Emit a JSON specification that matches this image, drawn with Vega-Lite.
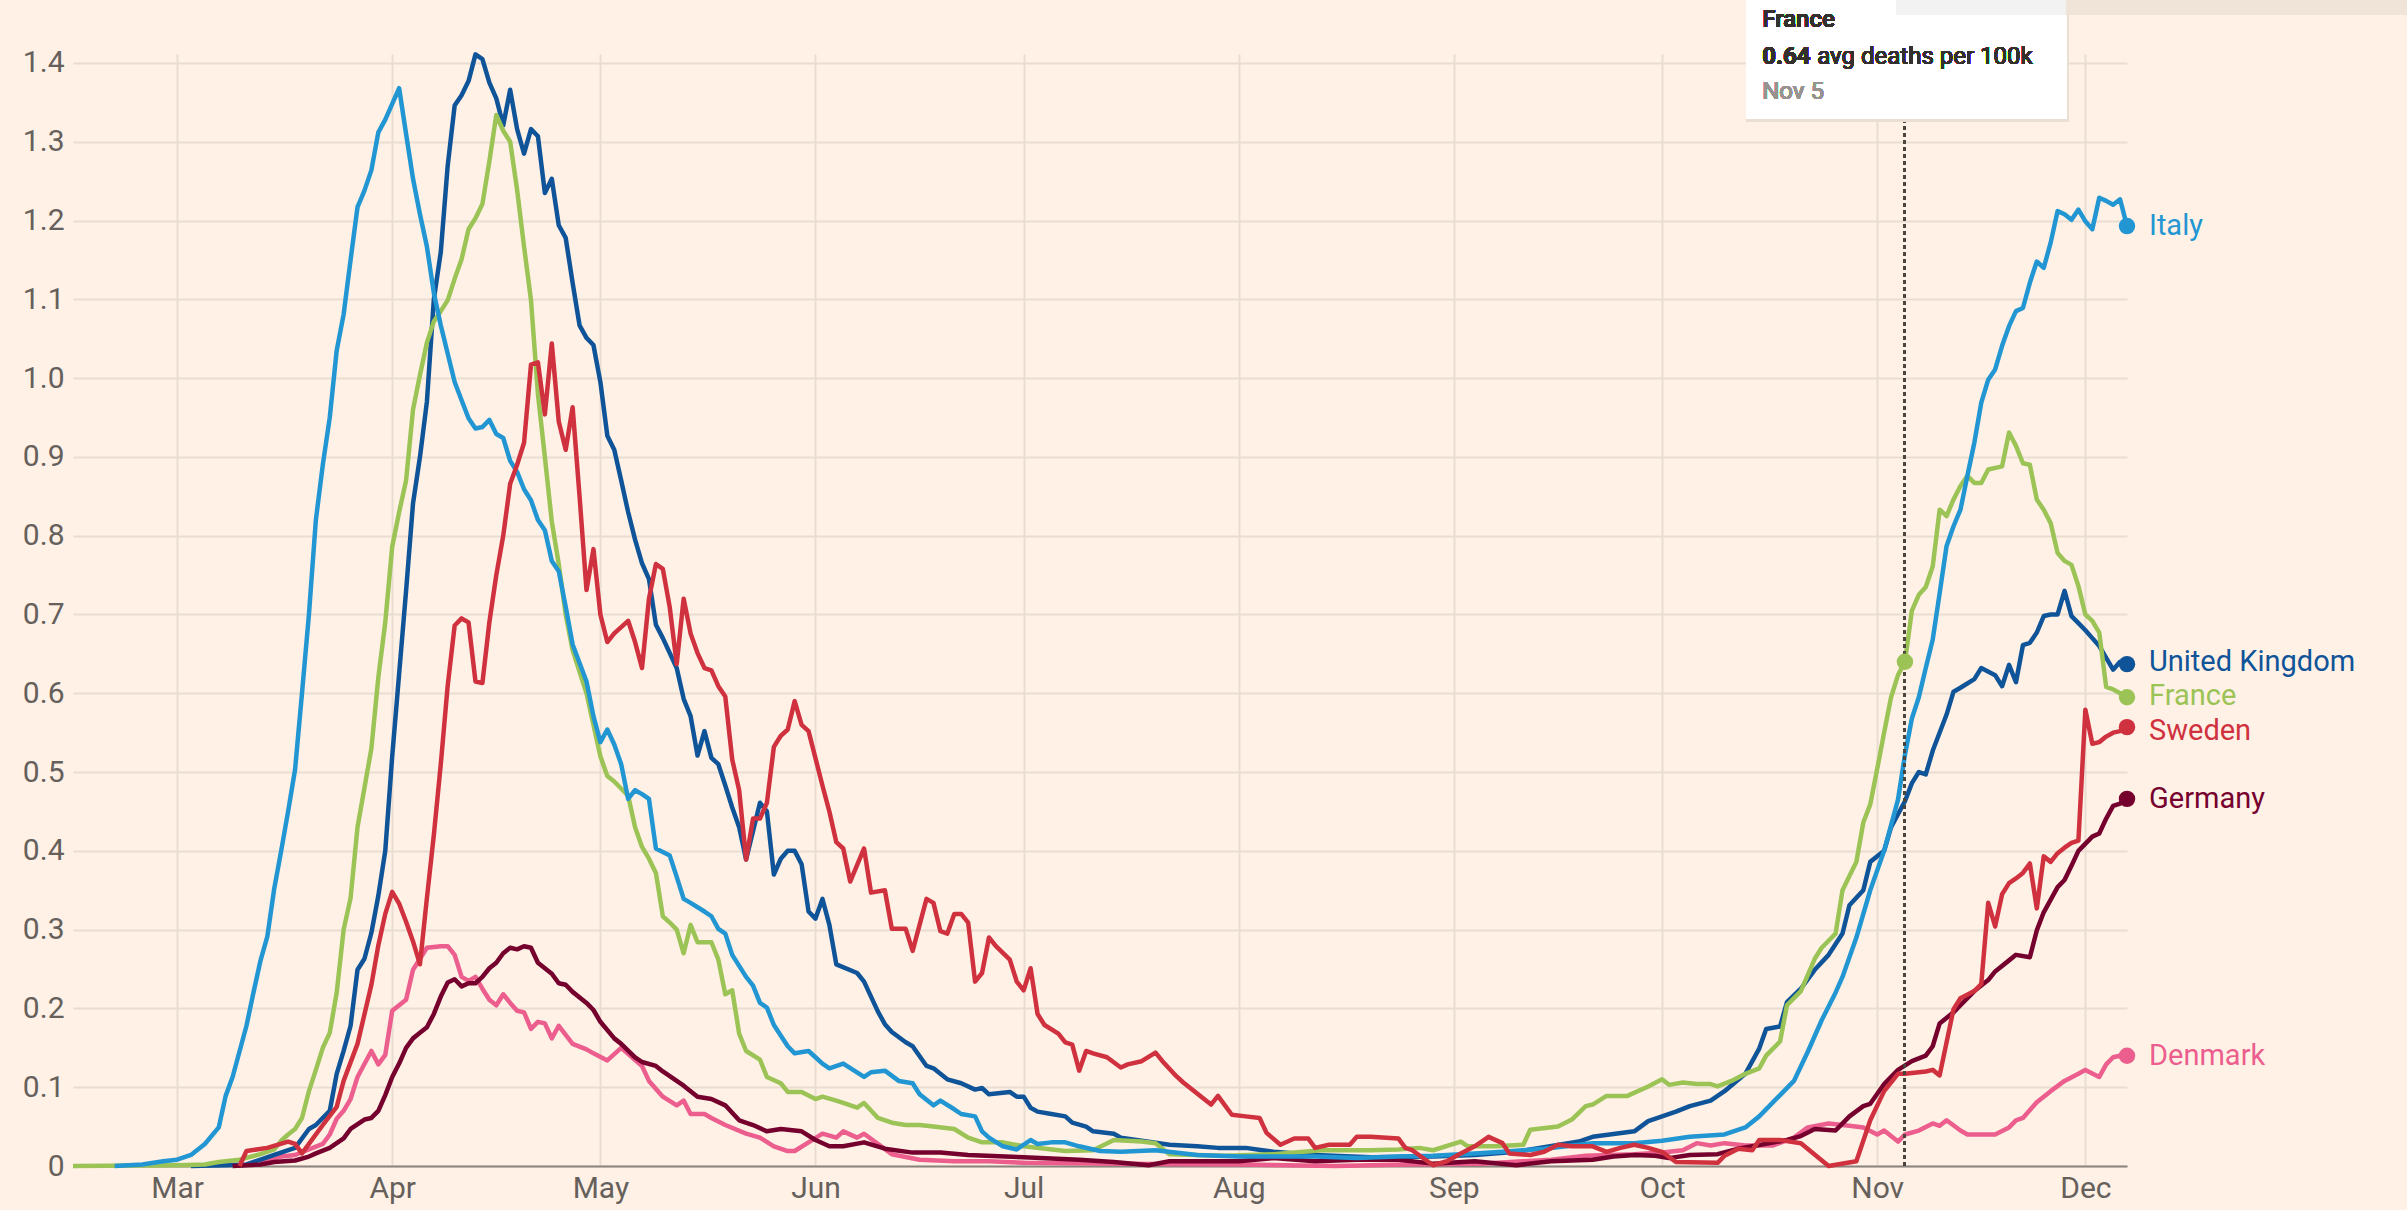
{
"$schema": "https://vega.github.io/schema/vega-lite/v6.json",
"width": 2054,
"height": 1112,
"autosize": {"type": "none"},
"padding": {"left": 73, "top": 54, "right": 280, "bottom": 44},
"background": "#FFF1E5",
"config": {"view": {"stroke": null}, "font": "Roboto"},
"data": {"values": [
{"c":"Denmark","d":"2020-03-13","v":0.005},{"c":"Denmark","d":"2020-03-16","v":0.012},{"c":"Denmark","d":"2020-03-18","v":0.014},{"c":"Denmark","d":"2020-03-22","v":0.028},{"c":"Denmark","d":"2020-03-23","v":0.04},{"c":"Denmark","d":"2020-03-24","v":0.06},{"c":"Denmark","d":"2020-03-25","v":0.07},{"c":"Denmark","d":"2020-03-26","v":0.085},{"c":"Denmark","d":"2020-03-27","v":0.113},{"c":"Denmark","d":"2020-03-29","v":0.146},{"c":"Denmark","d":"2020-03-30","v":0.129},{"c":"Denmark","d":"2020-03-31","v":0.141},{"c":"Denmark","d":"2020-04-01","v":0.197},{"c":"Denmark","d":"2020-04-03","v":0.211},{"c":"Denmark","d":"2020-04-04","v":0.249},{"c":"Denmark","d":"2020-04-05","v":0.263},{"c":"Denmark","d":"2020-04-06","v":0.277},{"c":"Denmark","d":"2020-04-08","v":0.279},{"c":"Denmark","d":"2020-04-09","v":0.279},{"c":"Denmark","d":"2020-04-10","v":0.268},{"c":"Denmark","d":"2020-04-11","v":0.24},{"c":"Denmark","d":"2020-04-12","v":0.235},{"c":"Denmark","d":"2020-04-13","v":0.24},{"c":"Denmark","d":"2020-04-14","v":0.225},{"c":"Denmark","d":"2020-04-15","v":0.211},{"c":"Denmark","d":"2020-04-16","v":0.204},{"c":"Denmark","d":"2020-04-17","v":0.218},{"c":"Denmark","d":"2020-04-18","v":0.207},{"c":"Denmark","d":"2020-04-19","v":0.197},{"c":"Denmark","d":"2020-04-20","v":0.195},{"c":"Denmark","d":"2020-04-21","v":0.174},{"c":"Denmark","d":"2020-04-22","v":0.183},{"c":"Denmark","d":"2020-04-23","v":0.181},{"c":"Denmark","d":"2020-04-24","v":0.162},{"c":"Denmark","d":"2020-04-25","v":0.178},{"c":"Denmark","d":"2020-04-27","v":0.155},{"c":"Denmark","d":"2020-04-29","v":0.148},{"c":"Denmark","d":"2020-04-30","v":0.143},{"c":"Denmark","d":"2020-05-02","v":0.134},{"c":"Denmark","d":"2020-05-04","v":0.15},{"c":"Denmark","d":"2020-05-07","v":0.127},{"c":"Denmark","d":"2020-05-08","v":0.108},{"c":"Denmark","d":"2020-05-10","v":0.088},{"c":"Denmark","d":"2020-05-12","v":0.077},{"c":"Denmark","d":"2020-05-13","v":0.083},{"c":"Denmark","d":"2020-05-14","v":0.066},{"c":"Denmark","d":"2020-05-16","v":0.066},{"c":"Denmark","d":"2020-05-17","v":0.061},{"c":"Denmark","d":"2020-05-19","v":0.052},{"c":"Denmark","d":"2020-05-22","v":0.041},{"c":"Denmark","d":"2020-05-24","v":0.036},{"c":"Denmark","d":"2020-05-26","v":0.025},{"c":"Denmark","d":"2020-05-28","v":0.019},{"c":"Denmark","d":"2020-05-29","v":0.019},{"c":"Denmark","d":"2020-05-31","v":0.03},{"c":"Denmark","d":"2020-06-02","v":0.041},{"c":"Denmark","d":"2020-06-04","v":0.036},{"c":"Denmark","d":"2020-06-05","v":0.044},{"c":"Denmark","d":"2020-06-07","v":0.036},{"c":"Denmark","d":"2020-06-08","v":0.041},{"c":"Denmark","d":"2020-06-12","v":0.015},{"c":"Denmark","d":"2020-06-16","v":0.008},{"c":"Denmark","d":"2020-06-21","v":0.006},{"c":"Denmark","d":"2020-06-26","v":0.006},{"c":"Denmark","d":"2020-07-01","v":0.004},{"c":"Denmark","d":"2020-07-15","v":0.003},{"c":"Denmark","d":"2020-08-01","v":0.002},{"c":"Denmark","d":"2020-08-15","v":0.0},{"c":"Denmark","d":"2020-08-25","v":0.002},{"c":"Denmark","d":"2020-09-05","v":0.003},{"c":"Denmark","d":"2020-09-15","v":0.008},{"c":"Denmark","d":"2020-09-20","v":0.013},{"c":"Denmark","d":"2020-09-27","v":0.015},{"c":"Denmark","d":"2020-10-01","v":0.017},{"c":"Denmark","d":"2020-10-04","v":0.02},{"c":"Denmark","d":"2020-10-06","v":0.029},{"c":"Denmark","d":"2020-10-08","v":0.026},{"c":"Denmark","d":"2020-10-10","v":0.029},{"c":"Denmark","d":"2020-10-13","v":0.026},{"c":"Denmark","d":"2020-10-17","v":0.026},{"c":"Denmark","d":"2020-10-20","v":0.036},{"c":"Denmark","d":"2020-10-22","v":0.049},{"c":"Denmark","d":"2020-10-25","v":0.054},{"c":"Denmark","d":"2020-10-28","v":0.051},{"c":"Denmark","d":"2020-10-30","v":0.049},{"c":"Denmark","d":"2020-11-01","v":0.04},{"c":"Denmark","d":"2020-11-02","v":0.045},{"c":"Denmark","d":"2020-11-04","v":0.031},{"c":"Denmark","d":"2020-11-05","v":0.04},{"c":"Denmark","d":"2020-11-07","v":0.045},{"c":"Denmark","d":"2020-11-09","v":0.054},{"c":"Denmark","d":"2020-11-10","v":0.051},{"c":"Denmark","d":"2020-11-11","v":0.058},{"c":"Denmark","d":"2020-11-13","v":0.045},{"c":"Denmark","d":"2020-11-14","v":0.04},{"c":"Denmark","d":"2020-11-17","v":0.04},{"c":"Denmark","d":"2020-11-18","v":0.04},{"c":"Denmark","d":"2020-11-20","v":0.049},{"c":"Denmark","d":"2020-11-21","v":0.058},{"c":"Denmark","d":"2020-11-22","v":0.061},{"c":"Denmark","d":"2020-11-24","v":0.081},{"c":"Denmark","d":"2020-11-26","v":0.095},{"c":"Denmark","d":"2020-11-28","v":0.108},{"c":"Denmark","d":"2020-11-30","v":0.117},{"c":"Denmark","d":"2020-12-01","v":0.122},{"c":"Denmark","d":"2020-12-03","v":0.113},{"c":"Denmark","d":"2020-12-04","v":0.129},{"c":"Denmark","d":"2020-12-05","v":0.138},{"c":"Denmark","d":"2020-12-06","v":0.14},{"c":"Denmark","d":"2020-12-07","v":0.14},
{"c":"United Kingdom","d":"2020-03-03","v":0},{"c":"United Kingdom","d":"2020-03-08","v":0.001},{"c":"United Kingdom","d":"2020-03-11","v":0.002},{"c":"United Kingdom","d":"2020-03-15","v":0.014},{"c":"United Kingdom","d":"2020-03-18","v":0.023},{"c":"United Kingdom","d":"2020-03-20","v":0.047},{"c":"United Kingdom","d":"2020-03-21","v":0.052},{"c":"United Kingdom","d":"2020-03-23","v":0.07},{"c":"United Kingdom","d":"2020-03-24","v":0.117},{"c":"United Kingdom","d":"2020-03-25","v":0.146},{"c":"United Kingdom","d":"2020-03-26","v":0.178},{"c":"United Kingdom","d":"2020-03-27","v":0.249},{"c":"United Kingdom","d":"2020-03-28","v":0.263},{"c":"United Kingdom","d":"2020-03-29","v":0.296},{"c":"United Kingdom","d":"2020-03-30","v":0.343},{"c":"United Kingdom","d":"2020-03-31","v":0.4},{"c":"United Kingdom","d":"2020-04-01","v":0.52},{"c":"United Kingdom","d":"2020-04-02","v":0.625},{"c":"United Kingdom","d":"2020-04-03","v":0.73},{"c":"United Kingdom","d":"2020-04-04","v":0.841},{"c":"United Kingdom","d":"2020-04-05","v":0.9},{"c":"United Kingdom","d":"2020-04-06","v":0.97},{"c":"United Kingdom","d":"2020-04-07","v":1.1},{"c":"United Kingdom","d":"2020-04-08","v":1.16},{"c":"United Kingdom","d":"2020-04-09","v":1.27},{"c":"United Kingdom","d":"2020-04-10","v":1.346},{"c":"United Kingdom","d":"2020-04-11","v":1.359},{"c":"United Kingdom","d":"2020-04-12","v":1.377},{"c":"United Kingdom","d":"2020-04-13","v":1.411},{"c":"United Kingdom","d":"2020-04-14","v":1.405},{"c":"United Kingdom","d":"2020-04-15","v":1.375},{"c":"United Kingdom","d":"2020-04-16","v":1.355},{"c":"United Kingdom","d":"2020-04-17","v":1.321},{"c":"United Kingdom","d":"2020-04-18","v":1.366},{"c":"United Kingdom","d":"2020-04-19","v":1.316},{"c":"United Kingdom","d":"2020-04-20","v":1.285},{"c":"United Kingdom","d":"2020-04-21","v":1.316},{"c":"United Kingdom","d":"2020-04-22","v":1.307},{"c":"United Kingdom","d":"2020-04-23","v":1.235},{"c":"United Kingdom","d":"2020-04-24","v":1.253},{"c":"United Kingdom","d":"2020-04-25","v":1.194},{"c":"United Kingdom","d":"2020-04-26","v":1.178},{"c":"United Kingdom","d":"2020-04-27","v":1.121},{"c":"United Kingdom","d":"2020-04-28","v":1.067},{"c":"United Kingdom","d":"2020-04-29","v":1.051},{"c":"United Kingdom","d":"2020-04-30","v":1.042},{"c":"United Kingdom","d":"2020-05-01","v":0.995},{"c":"United Kingdom","d":"2020-05-02","v":0.927},{"c":"United Kingdom","d":"2020-05-03","v":0.909},{"c":"United Kingdom","d":"2020-05-04","v":0.87},{"c":"United Kingdom","d":"2020-05-05","v":0.83},{"c":"United Kingdom","d":"2020-05-06","v":0.795},{"c":"United Kingdom","d":"2020-05-07","v":0.765},{"c":"United Kingdom","d":"2020-05-08","v":0.745},{"c":"United Kingdom","d":"2020-05-09","v":0.687},{"c":"United Kingdom","d":"2020-05-10","v":0.67},{"c":"United Kingdom","d":"2020-05-12","v":0.632},{"c":"United Kingdom","d":"2020-05-13","v":0.593},{"c":"United Kingdom","d":"2020-05-14","v":0.571},{"c":"United Kingdom","d":"2020-05-15","v":0.521},{"c":"United Kingdom","d":"2020-05-16","v":0.552},{"c":"United Kingdom","d":"2020-05-17","v":0.518},{"c":"United Kingdom","d":"2020-05-18","v":0.51},{"c":"United Kingdom","d":"2020-05-19","v":0.483},{"c":"United Kingdom","d":"2020-05-20","v":0.455},{"c":"United Kingdom","d":"2020-05-21","v":0.43},{"c":"United Kingdom","d":"2020-05-22","v":0.389},{"c":"United Kingdom","d":"2020-05-24","v":0.461},{"c":"United Kingdom","d":"2020-05-25","v":0.45},{"c":"United Kingdom","d":"2020-05-26","v":0.37},{"c":"United Kingdom","d":"2020-05-27","v":0.39},{"c":"United Kingdom","d":"2020-05-28","v":0.4},{"c":"United Kingdom","d":"2020-05-29","v":0.4},{"c":"United Kingdom","d":"2020-05-30","v":0.383},{"c":"United Kingdom","d":"2020-05-31","v":0.323},{"c":"United Kingdom","d":"2020-06-01","v":0.314},{"c":"United Kingdom","d":"2020-06-02","v":0.339},{"c":"United Kingdom","d":"2020-06-03","v":0.306},{"c":"United Kingdom","d":"2020-06-04","v":0.256},{"c":"United Kingdom","d":"2020-06-07","v":0.245},{"c":"United Kingdom","d":"2020-06-08","v":0.234},{"c":"United Kingdom","d":"2020-06-09","v":0.215},{"c":"United Kingdom","d":"2020-06-10","v":0.196},{"c":"United Kingdom","d":"2020-06-11","v":0.18},{"c":"United Kingdom","d":"2020-06-12","v":0.17},{"c":"United Kingdom","d":"2020-06-14","v":0.157},{"c":"United Kingdom","d":"2020-06-15","v":0.152},{"c":"United Kingdom","d":"2020-06-17","v":0.127},{"c":"United Kingdom","d":"2020-06-18","v":0.124},{"c":"United Kingdom","d":"2020-06-20","v":0.11},{"c":"United Kingdom","d":"2020-06-22","v":0.105},{"c":"United Kingdom","d":"2020-06-24","v":0.097},{"c":"United Kingdom","d":"2020-06-25","v":0.099},{"c":"United Kingdom","d":"2020-06-26","v":0.091},{"c":"United Kingdom","d":"2020-06-29","v":0.094},{"c":"United Kingdom","d":"2020-06-30","v":0.088},{"c":"United Kingdom","d":"2020-07-01","v":0.088},{"c":"United Kingdom","d":"2020-07-02","v":0.074},{"c":"United Kingdom","d":"2020-07-03","v":0.069},{"c":"United Kingdom","d":"2020-07-05","v":0.066},{"c":"United Kingdom","d":"2020-07-07","v":0.063},{"c":"United Kingdom","d":"2020-07-08","v":0.055},{"c":"United Kingdom","d":"2020-07-10","v":0.05},{"c":"United Kingdom","d":"2020-07-11","v":0.044},{"c":"United Kingdom","d":"2020-07-14","v":0.041},{"c":"United Kingdom","d":"2020-07-15","v":0.036},{"c":"United Kingdom","d":"2020-07-22","v":0.027},{"c":"United Kingdom","d":"2020-07-26","v":0.025},{"c":"United Kingdom","d":"2020-07-29","v":0.023},{"c":"United Kingdom","d":"2020-08-02","v":0.023},{"c":"United Kingdom","d":"2020-08-06","v":0.018},{"c":"United Kingdom","d":"2020-08-12","v":0.014},{"c":"United Kingdom","d":"2020-08-20","v":0.011},{"c":"United Kingdom","d":"2020-08-29","v":0.012},{"c":"United Kingdom","d":"2020-09-04","v":0.014},{"c":"United Kingdom","d":"2020-09-10","v":0.018},{"c":"United Kingdom","d":"2020-09-19","v":0.031},{"c":"United Kingdom","d":"2020-09-21","v":0.037},{"c":"United Kingdom","d":"2020-09-27","v":0.044},{"c":"United Kingdom","d":"2020-09-29","v":0.057},{"c":"United Kingdom","d":"2020-10-01","v":0.063},{"c":"United Kingdom","d":"2020-10-03","v":0.069},{"c":"United Kingdom","d":"2020-10-05","v":0.076},{"c":"United Kingdom","d":"2020-10-08","v":0.083},{"c":"United Kingdom","d":"2020-10-10","v":0.095},{"c":"United Kingdom","d":"2020-10-13","v":0.117},{"c":"United Kingdom","d":"2020-10-15","v":0.149},{"c":"United Kingdom","d":"2020-10-16","v":0.174},{"c":"United Kingdom","d":"2020-10-18","v":0.177},{"c":"United Kingdom","d":"2020-10-19","v":0.208},{"c":"United Kingdom","d":"2020-10-21","v":0.225},{"c":"United Kingdom","d":"2020-10-23","v":0.249},{"c":"United Kingdom","d":"2020-10-25","v":0.268},{"c":"United Kingdom","d":"2020-10-27","v":0.295},{"c":"United Kingdom","d":"2020-10-28","v":0.331},{"c":"United Kingdom","d":"2020-10-30","v":0.35},{"c":"United Kingdom","d":"2020-10-31","v":0.386},{"c":"United Kingdom","d":"2020-11-02","v":0.4},{"c":"United Kingdom","d":"2020-11-03","v":0.43},{"c":"United Kingdom","d":"2020-11-05","v":0.463},{"c":"United Kingdom","d":"2020-11-06","v":0.486},{"c":"United Kingdom","d":"2020-11-07","v":0.5},{"c":"United Kingdom","d":"2020-11-08","v":0.497},{"c":"United Kingdom","d":"2020-11-09","v":0.527},{"c":"United Kingdom","d":"2020-11-11","v":0.573},{"c":"United Kingdom","d":"2020-11-12","v":0.602},{"c":"United Kingdom","d":"2020-11-13","v":0.607},{"c":"United Kingdom","d":"2020-11-15","v":0.618},{"c":"United Kingdom","d":"2020-11-16","v":0.632},{"c":"United Kingdom","d":"2020-11-18","v":0.623},{"c":"United Kingdom","d":"2020-11-19","v":0.609},{"c":"United Kingdom","d":"2020-11-20","v":0.636},{"c":"United Kingdom","d":"2020-11-21","v":0.614},{"c":"United Kingdom","d":"2020-11-22","v":0.661},{"c":"United Kingdom","d":"2020-11-23","v":0.664},{"c":"United Kingdom","d":"2020-11-24","v":0.677},{"c":"United Kingdom","d":"2020-11-25","v":0.698},{"c":"United Kingdom","d":"2020-11-26","v":0.7},{"c":"United Kingdom","d":"2020-11-27","v":0.7},{"c":"United Kingdom","d":"2020-11-28","v":0.73},{"c":"United Kingdom","d":"2020-11-29","v":0.698},{"c":"United Kingdom","d":"2020-11-30","v":0.689},{"c":"United Kingdom","d":"2020-12-01","v":0.68},{"c":"United Kingdom","d":"2020-12-02","v":0.67},{"c":"United Kingdom","d":"2020-12-03","v":0.66},{"c":"United Kingdom","d":"2020-12-04","v":0.645},{"c":"United Kingdom","d":"2020-12-05","v":0.63},{"c":"United Kingdom","d":"2020-12-06","v":0.64},{"c":"United Kingdom","d":"2020-12-07","v":0.637},
{"c":"France","d":"2020-02-15","v":0},{"c":"France","d":"2020-03-01","v":0.001},{"c":"France","d":"2020-03-05","v":0.002},{"c":"France","d":"2020-03-07","v":0.005},{"c":"France","d":"2020-03-10","v":0.008},{"c":"France","d":"2020-03-13","v":0.015},{"c":"France","d":"2020-03-15","v":0.021},{"c":"France","d":"2020-03-16","v":0.032},{"c":"France","d":"2020-03-17","v":0.04},{"c":"France","d":"2020-03-18","v":0.047},{"c":"France","d":"2020-03-19","v":0.061},{"c":"France","d":"2020-03-20","v":0.095},{"c":"France","d":"2020-03-21","v":0.122},{"c":"France","d":"2020-03-22","v":0.15},{"c":"France","d":"2020-03-23","v":0.169},{"c":"France","d":"2020-03-24","v":0.22},{"c":"France","d":"2020-03-25","v":0.3},{"c":"France","d":"2020-03-26","v":0.34},{"c":"France","d":"2020-03-27","v":0.43},{"c":"France","d":"2020-03-28","v":0.48},{"c":"France","d":"2020-03-29","v":0.53},{"c":"France","d":"2020-03-30","v":0.62},{"c":"France","d":"2020-03-31","v":0.69},{"c":"France","d":"2020-04-01","v":0.786},{"c":"France","d":"2020-04-02","v":0.83},{"c":"France","d":"2020-04-03","v":0.87},{"c":"France","d":"2020-04-04","v":0.96},{"c":"France","d":"2020-04-05","v":1.004},{"c":"France","d":"2020-04-06","v":1.045},{"c":"France","d":"2020-04-07","v":1.072},{"c":"France","d":"2020-04-08","v":1.085},{"c":"France","d":"2020-04-09","v":1.099},{"c":"France","d":"2020-04-10","v":1.126},{"c":"France","d":"2020-04-11","v":1.151},{"c":"France","d":"2020-04-12","v":1.189},{"c":"France","d":"2020-04-13","v":1.203},{"c":"France","d":"2020-04-14","v":1.221},{"c":"France","d":"2020-04-15","v":1.275},{"c":"France","d":"2020-04-16","v":1.334},{"c":"France","d":"2020-04-17","v":1.314},{"c":"France","d":"2020-04-18","v":1.3},{"c":"France","d":"2020-04-19","v":1.239},{"c":"France","d":"2020-04-20","v":1.167},{"c":"France","d":"2020-04-21","v":1.099},{"c":"France","d":"2020-04-22","v":0.98},{"c":"France","d":"2020-04-23","v":0.9},{"c":"France","d":"2020-04-24","v":0.818},{"c":"France","d":"2020-04-25","v":0.764},{"c":"France","d":"2020-04-26","v":0.7},{"c":"France","d":"2020-04-27","v":0.655},{"c":"France","d":"2020-04-29","v":0.6},{"c":"France","d":"2020-04-30","v":0.56},{"c":"France","d":"2020-05-01","v":0.52},{"c":"France","d":"2020-05-02","v":0.495},{"c":"France","d":"2020-05-03","v":0.488},{"c":"France","d":"2020-05-05","v":0.47},{"c":"France","d":"2020-05-06","v":0.43},{"c":"France","d":"2020-05-07","v":0.405},{"c":"France","d":"2020-05-08","v":0.39},{"c":"France","d":"2020-05-09","v":0.372},{"c":"France","d":"2020-05-10","v":0.317},{"c":"France","d":"2020-05-11","v":0.309},{"c":"France","d":"2020-05-12","v":0.3},{"c":"France","d":"2020-05-13","v":0.27},{"c":"France","d":"2020-05-14","v":0.306},{"c":"France","d":"2020-05-15","v":0.284},{"c":"France","d":"2020-05-17","v":0.284},{"c":"France","d":"2020-05-18","v":0.262},{"c":"France","d":"2020-05-19","v":0.218},{"c":"France","d":"2020-05-20","v":0.223},{"c":"France","d":"2020-05-21","v":0.168},{"c":"France","d":"2020-05-22","v":0.146},{"c":"France","d":"2020-05-24","v":0.135},{"c":"France","d":"2020-05-25","v":0.113},{"c":"France","d":"2020-05-27","v":0.105},{"c":"France","d":"2020-05-28","v":0.094},{"c":"France","d":"2020-05-30","v":0.094},{"c":"France","d":"2020-06-01","v":0.085},{"c":"France","d":"2020-06-02","v":0.088},{"c":"France","d":"2020-06-04","v":0.083},{"c":"France","d":"2020-06-05","v":0.08},{"c":"France","d":"2020-06-07","v":0.074},{"c":"France","d":"2020-06-08","v":0.08},{"c":"France","d":"2020-06-10","v":0.061},{"c":"France","d":"2020-06-12","v":0.055},{"c":"France","d":"2020-06-14","v":0.052},{"c":"France","d":"2020-06-16","v":0.052},{"c":"France","d":"2020-06-18","v":0.05},{"c":"France","d":"2020-06-21","v":0.047},{"c":"France","d":"2020-06-23","v":0.036},{"c":"France","d":"2020-06-25","v":0.03},{"c":"France","d":"2020-06-28","v":0.03},{"c":"France","d":"2020-07-01","v":0.025},{"c":"France","d":"2020-07-07","v":0.019},{"c":"France","d":"2020-07-11","v":0.02},{"c":"France","d":"2020-07-14","v":0.033},{"c":"France","d":"2020-07-18","v":0.031},{"c":"France","d":"2020-07-20","v":0.029},{"c":"France","d":"2020-07-22","v":0.015},{"c":"France","d":"2020-07-30","v":0.013},{"c":"France","d":"2020-08-06","v":0.015},{"c":"France","d":"2020-08-13","v":0.02},{"c":"France","d":"2020-08-20","v":0.02},{"c":"France","d":"2020-08-24","v":0.021},{"c":"France","d":"2020-08-27","v":0.023},{"c":"France","d":"2020-08-29","v":0.02},{"c":"France","d":"2020-09-02","v":0.031},{"c":"France","d":"2020-09-03","v":0.025},{"c":"France","d":"2020-09-07","v":0.025},{"c":"France","d":"2020-09-11","v":0.027},{"c":"France","d":"2020-09-12","v":0.046},{"c":"France","d":"2020-09-16","v":0.05},{"c":"France","d":"2020-09-18","v":0.059},{"c":"France","d":"2020-09-20","v":0.076},{"c":"France","d":"2020-09-21","v":0.078},{"c":"France","d":"2020-09-23","v":0.089},{"c":"France","d":"2020-09-26","v":0.089},{"c":"France","d":"2020-09-29","v":0.101},{"c":"France","d":"2020-10-01","v":0.11},{"c":"France","d":"2020-10-02","v":0.103},{"c":"France","d":"2020-10-04","v":0.106},{"c":"France","d":"2020-10-06","v":0.104},{"c":"France","d":"2020-10-08","v":0.104},{"c":"France","d":"2020-10-09","v":0.101},{"c":"France","d":"2020-10-11","v":0.108},{"c":"France","d":"2020-10-13","v":0.117},{"c":"France","d":"2020-10-15","v":0.124},{"c":"France","d":"2020-10-16","v":0.14},{"c":"France","d":"2020-10-18","v":0.158},{"c":"France","d":"2020-10-19","v":0.204},{"c":"France","d":"2020-10-21","v":0.222},{"c":"France","d":"2020-10-23","v":0.263},{"c":"France","d":"2020-10-24","v":0.277},{"c":"France","d":"2020-10-26","v":0.295},{"c":"France","d":"2020-10-27","v":0.35},{"c":"France","d":"2020-10-28","v":0.368},{"c":"France","d":"2020-10-29","v":0.386},{"c":"France","d":"2020-10-30","v":0.436},{"c":"France","d":"2020-10-31","v":0.459},{"c":"France","d":"2020-11-01","v":0.504},{"c":"France","d":"2020-11-02","v":0.55},{"c":"France","d":"2020-11-03","v":0.595},{"c":"France","d":"2020-11-04","v":0.623},{"c":"France","d":"2020-11-05","v":0.64},{"c":"France","d":"2020-11-06","v":0.705},{"c":"France","d":"2020-11-07","v":0.725},{"c":"France","d":"2020-11-08","v":0.735},{"c":"France","d":"2020-11-09","v":0.761},{"c":"France","d":"2020-11-10","v":0.833},{"c":"France","d":"2020-11-11","v":0.825},{"c":"France","d":"2020-11-12","v":0.846},{"c":"France","d":"2020-11-13","v":0.863},{"c":"France","d":"2020-11-14","v":0.876},{"c":"France","d":"2020-11-15","v":0.867},{"c":"France","d":"2020-11-16","v":0.867},{"c":"France","d":"2020-11-17","v":0.884},{"c":"France","d":"2020-11-19","v":0.888},{"c":"France","d":"2020-11-20","v":0.931},{"c":"France","d":"2020-11-21","v":0.914},{"c":"France","d":"2020-11-22","v":0.892},{"c":"France","d":"2020-11-23","v":0.89},{"c":"France","d":"2020-11-24","v":0.846},{"c":"France","d":"2020-11-25","v":0.833},{"c":"France","d":"2020-11-26","v":0.816},{"c":"France","d":"2020-11-27","v":0.778},{"c":"France","d":"2020-11-28","v":0.768},{"c":"France","d":"2020-11-29","v":0.763},{"c":"France","d":"2020-11-30","v":0.736},{"c":"France","d":"2020-12-01","v":0.7},{"c":"France","d":"2020-12-02","v":0.692},{"c":"France","d":"2020-12-03","v":0.677},{"c":"France","d":"2020-12-04","v":0.608},{"c":"France","d":"2020-12-05","v":0.605},{"c":"France","d":"2020-12-06","v":0.6},{"c":"France","d":"2020-12-07","v":0.595},
{"c":"Germany","d":"2020-03-09","v":0},{"c":"Germany","d":"2020-03-13","v":0.002},{"c":"Germany","d":"2020-03-15","v":0.005},{"c":"Germany","d":"2020-03-18","v":0.007},{"c":"Germany","d":"2020-03-20","v":0.012},{"c":"Germany","d":"2020-03-21","v":0.016},{"c":"Germany","d":"2020-03-23","v":0.023},{"c":"Germany","d":"2020-03-25","v":0.035},{"c":"Germany","d":"2020-03-26","v":0.047},{"c":"Germany","d":"2020-03-28","v":0.059},{"c":"Germany","d":"2020-03-29","v":0.061},{"c":"Germany","d":"2020-03-30","v":0.07},{"c":"Germany","d":"2020-03-31","v":0.09},{"c":"Germany","d":"2020-04-01","v":0.113},{"c":"Germany","d":"2020-04-02","v":0.13},{"c":"Germany","d":"2020-04-03","v":0.15},{"c":"Germany","d":"2020-04-04","v":0.162},{"c":"Germany","d":"2020-04-05","v":0.169},{"c":"Germany","d":"2020-04-06","v":0.176},{"c":"Germany","d":"2020-04-07","v":0.193},{"c":"Germany","d":"2020-04-08","v":0.215},{"c":"Germany","d":"2020-04-09","v":0.233},{"c":"Germany","d":"2020-04-10","v":0.237},{"c":"Germany","d":"2020-04-11","v":0.228},{"c":"Germany","d":"2020-04-12","v":0.232},{"c":"Germany","d":"2020-04-13","v":0.232},{"c":"Germany","d":"2020-04-14","v":0.24},{"c":"Germany","d":"2020-04-15","v":0.251},{"c":"Germany","d":"2020-04-16","v":0.258},{"c":"Germany","d":"2020-04-17","v":0.27},{"c":"Germany","d":"2020-04-18","v":0.277},{"c":"Germany","d":"2020-04-19","v":0.275},{"c":"Germany","d":"2020-04-20","v":0.279},{"c":"Germany","d":"2020-04-21","v":0.277},{"c":"Germany","d":"2020-04-22","v":0.258},{"c":"Germany","d":"2020-04-24","v":0.244},{"c":"Germany","d":"2020-04-25","v":0.232},{"c":"Germany","d":"2020-04-26","v":0.23},{"c":"Germany","d":"2020-04-27","v":0.221},{"c":"Germany","d":"2020-04-29","v":0.207},{"c":"Germany","d":"2020-04-30","v":0.198},{"c":"Germany","d":"2020-05-01","v":0.183},{"c":"Germany","d":"2020-05-03","v":0.162},{"c":"Germany","d":"2020-05-04","v":0.155},{"c":"Germany","d":"2020-05-06","v":0.138},{"c":"Germany","d":"2020-05-07","v":0.132},{"c":"Germany","d":"2020-05-09","v":0.127},{"c":"Germany","d":"2020-05-10","v":0.12},{"c":"Germany","d":"2020-05-12","v":0.108},{"c":"Germany","d":"2020-05-13","v":0.102},{"c":"Germany","d":"2020-05-15","v":0.088},{"c":"Germany","d":"2020-05-17","v":0.085},{"c":"Germany","d":"2020-05-19","v":0.077},{"c":"Germany","d":"2020-05-21","v":0.058},{"c":"Germany","d":"2020-05-23","v":0.052},{"c":"Germany","d":"2020-05-25","v":0.044},{"c":"Germany","d":"2020-05-27","v":0.047},{"c":"Germany","d":"2020-05-30","v":0.044},{"c":"Germany","d":"2020-06-01","v":0.033},{"c":"Germany","d":"2020-06-03","v":0.025},{"c":"Germany","d":"2020-06-05","v":0.025},{"c":"Germany","d":"2020-06-08","v":0.03},{"c":"Germany","d":"2020-06-11","v":0.022},{"c":"Germany","d":"2020-06-15","v":0.017},{"c":"Germany","d":"2020-06-19","v":0.017},{"c":"Germany","d":"2020-06-23","v":0.014},{"c":"Germany","d":"2020-07-01","v":0.011},{"c":"Germany","d":"2020-07-09","v":0.008},{"c":"Germany","d":"2020-07-14","v":0.005},{"c":"Germany","d":"2020-07-19","v":0.001},{"c":"Germany","d":"2020-07-22","v":0.006},{"c":"Germany","d":"2020-08-01","v":0.006},{"c":"Germany","d":"2020-08-06","v":0.01},{"c":"Germany","d":"2020-08-12","v":0.006},{"c":"Germany","d":"2020-08-18","v":0.008},{"c":"Germany","d":"2020-08-24","v":0.008},{"c":"Germany","d":"2020-08-29","v":0.003},{"c":"Germany","d":"2020-09-04","v":0.006},{"c":"Germany","d":"2020-09-10","v":0.001},{"c":"Germany","d":"2020-09-15","v":0.006},{"c":"Germany","d":"2020-09-21","v":0.008},{"c":"Germany","d":"2020-09-24","v":0.012},{"c":"Germany","d":"2020-09-27","v":0.014},{"c":"Germany","d":"2020-09-30","v":0.013},{"c":"Germany","d":"2020-10-02","v":0.01},{"c":"Germany","d":"2020-10-05","v":0.014},{"c":"Germany","d":"2020-10-09","v":0.015},{"c":"Germany","d":"2020-10-12","v":0.022},{"c":"Germany","d":"2020-10-19","v":0.033},{"c":"Germany","d":"2020-10-21","v":0.038},{"c":"Germany","d":"2020-10-23","v":0.047},{"c":"Germany","d":"2020-10-26","v":0.045},{"c":"Germany","d":"2020-10-28","v":0.063},{"c":"Germany","d":"2020-10-30","v":0.076},{"c":"Germany","d":"2020-10-31","v":0.079},{"c":"Germany","d":"2020-11-02","v":0.104},{"c":"Germany","d":"2020-11-04","v":0.122},{"c":"Germany","d":"2020-11-06","v":0.133},{"c":"Germany","d":"2020-11-08","v":0.14},{"c":"Germany","d":"2020-11-09","v":0.152},{"c":"Germany","d":"2020-11-10","v":0.181},{"c":"Germany","d":"2020-11-12","v":0.195},{"c":"Germany","d":"2020-11-13","v":0.204},{"c":"Germany","d":"2020-11-15","v":0.222},{"c":"Germany","d":"2020-11-17","v":0.236},{"c":"Germany","d":"2020-11-18","v":0.247},{"c":"Germany","d":"2020-11-20","v":0.261},{"c":"Germany","d":"2020-11-21","v":0.268},{"c":"Germany","d":"2020-11-23","v":0.265},{"c":"Germany","d":"2020-11-24","v":0.299},{"c":"Germany","d":"2020-11-25","v":0.322},{"c":"Germany","d":"2020-11-27","v":0.354},{"c":"Germany","d":"2020-11-28","v":0.363},{"c":"Germany","d":"2020-11-29","v":0.381},{"c":"Germany","d":"2020-11-30","v":0.4},{"c":"Germany","d":"2020-12-02","v":0.418},{"c":"Germany","d":"2020-12-03","v":0.422},{"c":"Germany","d":"2020-12-04","v":0.441},{"c":"Germany","d":"2020-12-05","v":0.457},{"c":"Germany","d":"2020-12-06","v":0.46},{"c":"Germany","d":"2020-12-07","v":0.466},
{"c":"Italy","d":"2020-02-21","v":0},{"c":"Italy","d":"2020-02-25","v":0.002},{"c":"Italy","d":"2020-02-28","v":0.006},{"c":"Italy","d":"2020-03-01","v":0.008},{"c":"Italy","d":"2020-03-03","v":0.014},{"c":"Italy","d":"2020-03-05","v":0.028},{"c":"Italy","d":"2020-03-07","v":0.049},{"c":"Italy","d":"2020-03-08","v":0.089},{"c":"Italy","d":"2020-03-09","v":0.113},{"c":"Italy","d":"2020-03-11","v":0.178},{"c":"Italy","d":"2020-03-12","v":0.22},{"c":"Italy","d":"2020-03-13","v":0.26},{"c":"Italy","d":"2020-03-14","v":0.291},{"c":"Italy","d":"2020-03-15","v":0.352},{"c":"Italy","d":"2020-03-16","v":0.4},{"c":"Italy","d":"2020-03-17","v":0.45},{"c":"Italy","d":"2020-03-18","v":0.503},{"c":"Italy","d":"2020-03-19","v":0.6},{"c":"Italy","d":"2020-03-20","v":0.7},{"c":"Italy","d":"2020-03-21","v":0.82},{"c":"Italy","d":"2020-03-22","v":0.89},{"c":"Italy","d":"2020-03-23","v":0.95},{"c":"Italy","d":"2020-03-24","v":1.035},{"c":"Italy","d":"2020-03-25","v":1.081},{"c":"Italy","d":"2020-03-26","v":1.15},{"c":"Italy","d":"2020-03-27","v":1.217},{"c":"Italy","d":"2020-03-28","v":1.238},{"c":"Italy","d":"2020-03-29","v":1.264},{"c":"Italy","d":"2020-03-30","v":1.312},{"c":"Italy","d":"2020-03-31","v":1.328},{"c":"Italy","d":"2020-04-01","v":1.348},{"c":"Italy","d":"2020-04-02","v":1.368},{"c":"Italy","d":"2020-04-03","v":1.31},{"c":"Italy","d":"2020-04-04","v":1.253},{"c":"Italy","d":"2020-04-05","v":1.208},{"c":"Italy","d":"2020-04-06","v":1.167},{"c":"Italy","d":"2020-04-07","v":1.108},{"c":"Italy","d":"2020-04-08","v":1.067},{"c":"Italy","d":"2020-04-09","v":1.031},{"c":"Italy","d":"2020-04-10","v":0.995},{"c":"Italy","d":"2020-04-11","v":0.972},{"c":"Italy","d":"2020-04-12","v":0.949},{"c":"Italy","d":"2020-04-13","v":0.936},{"c":"Italy","d":"2020-04-14","v":0.938},{"c":"Italy","d":"2020-04-15","v":0.947},{"c":"Italy","d":"2020-04-16","v":0.929},{"c":"Italy","d":"2020-04-17","v":0.924},{"c":"Italy","d":"2020-04-18","v":0.895},{"c":"Italy","d":"2020-04-19","v":0.881},{"c":"Italy","d":"2020-04-20","v":0.859},{"c":"Italy","d":"2020-04-21","v":0.845},{"c":"Italy","d":"2020-04-22","v":0.82},{"c":"Italy","d":"2020-04-23","v":0.807},{"c":"Italy","d":"2020-04-24","v":0.768},{"c":"Italy","d":"2020-04-25","v":0.755},{"c":"Italy","d":"2020-04-26","v":0.71},{"c":"Italy","d":"2020-04-27","v":0.662},{"c":"Italy","d":"2020-04-29","v":0.615},{"c":"Italy","d":"2020-04-30","v":0.571},{"c":"Italy","d":"2020-05-01","v":0.538},{"c":"Italy","d":"2020-05-02","v":0.554},{"c":"Italy","d":"2020-05-03","v":0.535},{"c":"Italy","d":"2020-05-04","v":0.51},{"c":"Italy","d":"2020-05-05","v":0.466},{"c":"Italy","d":"2020-05-06","v":0.477},{"c":"Italy","d":"2020-05-07","v":0.472},{"c":"Italy","d":"2020-05-08","v":0.466},{"c":"Italy","d":"2020-05-09","v":0.403},{"c":"Italy","d":"2020-05-11","v":0.394},{"c":"Italy","d":"2020-05-12","v":0.367},{"c":"Italy","d":"2020-05-13","v":0.339},{"c":"Italy","d":"2020-05-14","v":0.334},{"c":"Italy","d":"2020-05-16","v":0.323},{"c":"Italy","d":"2020-05-17","v":0.317},{"c":"Italy","d":"2020-05-18","v":0.301},{"c":"Italy","d":"2020-05-19","v":0.295},{"c":"Italy","d":"2020-05-20","v":0.268},{"c":"Italy","d":"2020-05-22","v":0.24},{"c":"Italy","d":"2020-05-23","v":0.229},{"c":"Italy","d":"2020-05-24","v":0.207},{"c":"Italy","d":"2020-05-25","v":0.201},{"c":"Italy","d":"2020-05-26","v":0.179},{"c":"Italy","d":"2020-05-28","v":0.152},{"c":"Italy","d":"2020-05-29","v":0.143},{"c":"Italy","d":"2020-05-31","v":0.146},{"c":"Italy","d":"2020-06-01","v":0.138},{"c":"Italy","d":"2020-06-02","v":0.13},{"c":"Italy","d":"2020-06-03","v":0.124},{"c":"Italy","d":"2020-06-05","v":0.13},{"c":"Italy","d":"2020-06-08","v":0.113},{"c":"Italy","d":"2020-06-09","v":0.119},{"c":"Italy","d":"2020-06-11","v":0.121},{"c":"Italy","d":"2020-06-13","v":0.108},{"c":"Italy","d":"2020-06-15","v":0.105},{"c":"Italy","d":"2020-06-16","v":0.091},{"c":"Italy","d":"2020-06-18","v":0.077},{"c":"Italy","d":"2020-06-19","v":0.083},{"c":"Italy","d":"2020-06-21","v":0.072},{"c":"Italy","d":"2020-06-22","v":0.066},{"c":"Italy","d":"2020-06-24","v":0.063},{"c":"Italy","d":"2020-06-25","v":0.044},{"c":"Italy","d":"2020-06-26","v":0.036},{"c":"Italy","d":"2020-06-28","v":0.025},{"c":"Italy","d":"2020-06-30","v":0.021},{"c":"Italy","d":"2020-07-02","v":0.033},{"c":"Italy","d":"2020-07-03","v":0.028},{"c":"Italy","d":"2020-07-05","v":0.03},{"c":"Italy","d":"2020-07-07","v":0.03},{"c":"Italy","d":"2020-07-09","v":0.025},{"c":"Italy","d":"2020-07-12","v":0.019},{"c":"Italy","d":"2020-07-15","v":0.018},{"c":"Italy","d":"2020-07-20","v":0.02},{"c":"Italy","d":"2020-07-26","v":0.014},{"c":"Italy","d":"2020-08-01","v":0.012},{"c":"Italy","d":"2020-08-06","v":0.012},{"c":"Italy","d":"2020-08-12","v":0.012},{"c":"Italy","d":"2020-08-18","v":0.01},{"c":"Italy","d":"2020-08-24","v":0.012},{"c":"Italy","d":"2020-08-29","v":0.013},{"c":"Italy","d":"2020-09-04","v":0.016},{"c":"Italy","d":"2020-09-08","v":0.018},{"c":"Italy","d":"2020-09-14","v":0.022},{"c":"Italy","d":"2020-09-21","v":0.029},{"c":"Italy","d":"2020-09-27","v":0.029},{"c":"Italy","d":"2020-10-01","v":0.032},{"c":"Italy","d":"2020-10-05","v":0.037},{"c":"Italy","d":"2020-10-10","v":0.04},{"c":"Italy","d":"2020-10-13","v":0.049},{"c":"Italy","d":"2020-10-15","v":0.063},{"c":"Italy","d":"2020-10-17","v":0.081},{"c":"Italy","d":"2020-10-20","v":0.108},{"c":"Italy","d":"2020-10-22","v":0.145},{"c":"Italy","d":"2020-10-24","v":0.185},{"c":"Italy","d":"2020-10-26","v":0.22},{"c":"Italy","d":"2020-10-27","v":0.24},{"c":"Italy","d":"2020-10-29","v":0.29},{"c":"Italy","d":"2020-10-31","v":0.35},{"c":"Italy","d":"2020-11-02","v":0.4},{"c":"Italy","d":"2020-11-04","v":0.465},{"c":"Italy","d":"2020-11-05","v":0.522},{"c":"Italy","d":"2020-11-06","v":0.568},{"c":"Italy","d":"2020-11-07","v":0.595},{"c":"Italy","d":"2020-11-08","v":0.632},{"c":"Italy","d":"2020-11-09","v":0.668},{"c":"Italy","d":"2020-11-10","v":0.727},{"c":"Italy","d":"2020-11-11","v":0.787},{"c":"Italy","d":"2020-11-12","v":0.812},{"c":"Italy","d":"2020-11-13","v":0.833},{"c":"Italy","d":"2020-11-14","v":0.876},{"c":"Italy","d":"2020-11-15","v":0.918},{"c":"Italy","d":"2020-11-16","v":0.969},{"c":"Italy","d":"2020-11-17","v":0.998},{"c":"Italy","d":"2020-11-18","v":1.011},{"c":"Italy","d":"2020-11-19","v":1.041},{"c":"Italy","d":"2020-11-20","v":1.066},{"c":"Italy","d":"2020-11-21","v":1.085},{"c":"Italy","d":"2020-11-22","v":1.089},{"c":"Italy","d":"2020-11-23","v":1.121},{"c":"Italy","d":"2020-11-24","v":1.148},{"c":"Italy","d":"2020-11-25","v":1.14},{"c":"Italy","d":"2020-11-26","v":1.172},{"c":"Italy","d":"2020-11-27","v":1.212},{"c":"Italy","d":"2020-11-28","v":1.208},{"c":"Italy","d":"2020-11-29","v":1.201},{"c":"Italy","d":"2020-11-30","v":1.214},{"c":"Italy","d":"2020-12-01","v":1.199},{"c":"Italy","d":"2020-12-02","v":1.189},{"c":"Italy","d":"2020-12-03","v":1.229},{"c":"Italy","d":"2020-12-04","v":1.225},{"c":"Italy","d":"2020-12-05","v":1.22},{"c":"Italy","d":"2020-12-06","v":1.227},{"c":"Italy","d":"2020-12-07","v":1.193},
{"c":"Sweden","d":"2020-03-10","v":0},{"c":"Sweden","d":"2020-03-11","v":0.019},{"c":"Sweden","d":"2020-03-14","v":0.023},{"c":"Sweden","d":"2020-03-17","v":0.031},{"c":"Sweden","d":"2020-03-18","v":0.028},{"c":"Sweden","d":"2020-03-19","v":0.016},{"c":"Sweden","d":"2020-03-20","v":0.028},{"c":"Sweden","d":"2020-03-22","v":0.052},{"c":"Sweden","d":"2020-03-24","v":0.075},{"c":"Sweden","d":"2020-03-25","v":0.108},{"c":"Sweden","d":"2020-03-27","v":0.155},{"c":"Sweden","d":"2020-03-29","v":0.23},{"c":"Sweden","d":"2020-03-30","v":0.28},{"c":"Sweden","d":"2020-03-31","v":0.32},{"c":"Sweden","d":"2020-04-01","v":0.348},{"c":"Sweden","d":"2020-04-02","v":0.333},{"c":"Sweden","d":"2020-04-03","v":0.31},{"c":"Sweden","d":"2020-04-04","v":0.285},{"c":"Sweden","d":"2020-04-05","v":0.256},{"c":"Sweden","d":"2020-04-06","v":0.34},{"c":"Sweden","d":"2020-04-07","v":0.42},{"c":"Sweden","d":"2020-04-08","v":0.51},{"c":"Sweden","d":"2020-04-09","v":0.61},{"c":"Sweden","d":"2020-04-10","v":0.686},{"c":"Sweden","d":"2020-04-11","v":0.695},{"c":"Sweden","d":"2020-04-12","v":0.69},{"c":"Sweden","d":"2020-04-13","v":0.615},{"c":"Sweden","d":"2020-04-14","v":0.613},{"c":"Sweden","d":"2020-04-15","v":0.69},{"c":"Sweden","d":"2020-04-16","v":0.75},{"c":"Sweden","d":"2020-04-17","v":0.8},{"c":"Sweden","d":"2020-04-18","v":0.866},{"c":"Sweden","d":"2020-04-19","v":0.89},{"c":"Sweden","d":"2020-04-20","v":0.918},{"c":"Sweden","d":"2020-04-21","v":1.017},{"c":"Sweden","d":"2020-04-22","v":1.02},{"c":"Sweden","d":"2020-04-23","v":0.954},{"c":"Sweden","d":"2020-04-24","v":1.044},{"c":"Sweden","d":"2020-04-25","v":0.945},{"c":"Sweden","d":"2020-04-26","v":0.909},{"c":"Sweden","d":"2020-04-27","v":0.963},{"c":"Sweden","d":"2020-04-28","v":0.85},{"c":"Sweden","d":"2020-04-29","v":0.731},{"c":"Sweden","d":"2020-04-30","v":0.783},{"c":"Sweden","d":"2020-05-01","v":0.7},{"c":"Sweden","d":"2020-05-02","v":0.665},{"c":"Sweden","d":"2020-05-03","v":0.676},{"c":"Sweden","d":"2020-05-05","v":0.692},{"c":"Sweden","d":"2020-05-06","v":0.665},{"c":"Sweden","d":"2020-05-07","v":0.632},{"c":"Sweden","d":"2020-05-08","v":0.72},{"c":"Sweden","d":"2020-05-09","v":0.764},{"c":"Sweden","d":"2020-05-10","v":0.758},{"c":"Sweden","d":"2020-05-11","v":0.709},{"c":"Sweden","d":"2020-05-12","v":0.637},{"c":"Sweden","d":"2020-05-13","v":0.72},{"c":"Sweden","d":"2020-05-14","v":0.676},{"c":"Sweden","d":"2020-05-15","v":0.651},{"c":"Sweden","d":"2020-05-16","v":0.632},{"c":"Sweden","d":"2020-05-17","v":0.629},{"c":"Sweden","d":"2020-05-18","v":0.609},{"c":"Sweden","d":"2020-05-19","v":0.596},{"c":"Sweden","d":"2020-05-20","v":0.516},{"c":"Sweden","d":"2020-05-21","v":0.477},{"c":"Sweden","d":"2020-05-22","v":0.389},{"c":"Sweden","d":"2020-05-23","v":0.441},{"c":"Sweden","d":"2020-05-24","v":0.441},{"c":"Sweden","d":"2020-05-25","v":0.461},{"c":"Sweden","d":"2020-05-26","v":0.532},{"c":"Sweden","d":"2020-05-27","v":0.546},{"c":"Sweden","d":"2020-05-28","v":0.554},{"c":"Sweden","d":"2020-05-29","v":0.59},{"c":"Sweden","d":"2020-05-30","v":0.56},{"c":"Sweden","d":"2020-05-31","v":0.552},{"c":"Sweden","d":"2020-06-02","v":0.483},{"c":"Sweden","d":"2020-06-03","v":0.45},{"c":"Sweden","d":"2020-06-04","v":0.411},{"c":"Sweden","d":"2020-06-05","v":0.403},{"c":"Sweden","d":"2020-06-06","v":0.361},{"c":"Sweden","d":"2020-06-08","v":0.403},{"c":"Sweden","d":"2020-06-09","v":0.347},{"c":"Sweden","d":"2020-06-11","v":0.35},{"c":"Sweden","d":"2020-06-12","v":0.301},{"c":"Sweden","d":"2020-06-14","v":0.301},{"c":"Sweden","d":"2020-06-15","v":0.273},{"c":"Sweden","d":"2020-06-16","v":0.306},{"c":"Sweden","d":"2020-06-17","v":0.339},{"c":"Sweden","d":"2020-06-18","v":0.334},{"c":"Sweden","d":"2020-06-19","v":0.298},{"c":"Sweden","d":"2020-06-20","v":0.295},{"c":"Sweden","d":"2020-06-21","v":0.32},{"c":"Sweden","d":"2020-06-22","v":0.32},{"c":"Sweden","d":"2020-06-23","v":0.309},{"c":"Sweden","d":"2020-06-24","v":0.234},{"c":"Sweden","d":"2020-06-25","v":0.245},{"c":"Sweden","d":"2020-06-26","v":0.29},{"c":"Sweden","d":"2020-06-27","v":0.279},{"c":"Sweden","d":"2020-06-29","v":0.262},{"c":"Sweden","d":"2020-06-30","v":0.234},{"c":"Sweden","d":"2020-07-01","v":0.223},{"c":"Sweden","d":"2020-07-02","v":0.251},{"c":"Sweden","d":"2020-07-03","v":0.193},{"c":"Sweden","d":"2020-07-04","v":0.179},{"c":"Sweden","d":"2020-07-06","v":0.168},{"c":"Sweden","d":"2020-07-07","v":0.157},{"c":"Sweden","d":"2020-07-08","v":0.154},{"c":"Sweden","d":"2020-07-09","v":0.121},{"c":"Sweden","d":"2020-07-10","v":0.146},{"c":"Sweden","d":"2020-07-11","v":0.143},{"c":"Sweden","d":"2020-07-13","v":0.138},{"c":"Sweden","d":"2020-07-15","v":0.125},{"c":"Sweden","d":"2020-07-16","v":0.129},{"c":"Sweden","d":"2020-07-18","v":0.133},{"c":"Sweden","d":"2020-07-20","v":0.144},{"c":"Sweden","d":"2020-07-21","v":0.133},{"c":"Sweden","d":"2020-07-23","v":0.114},{"c":"Sweden","d":"2020-07-24","v":0.106},{"c":"Sweden","d":"2020-07-28","v":0.078},{"c":"Sweden","d":"2020-07-29","v":0.089},{"c":"Sweden","d":"2020-07-31","v":0.065},{"c":"Sweden","d":"2020-08-02","v":0.063},{"c":"Sweden","d":"2020-08-04","v":0.061},{"c":"Sweden","d":"2020-08-05","v":0.042},{"c":"Sweden","d":"2020-08-07","v":0.027},{"c":"Sweden","d":"2020-08-09","v":0.035},{"c":"Sweden","d":"2020-08-11","v":0.035},{"c":"Sweden","d":"2020-08-12","v":0.023},{"c":"Sweden","d":"2020-08-14","v":0.027},{"c":"Sweden","d":"2020-08-17","v":0.027},{"c":"Sweden","d":"2020-08-18","v":0.037},{"c":"Sweden","d":"2020-08-20","v":0.037},{"c":"Sweden","d":"2020-08-24","v":0.035},{"c":"Sweden","d":"2020-08-25","v":0.023},{"c":"Sweden","d":"2020-08-26","v":0.02},{"c":"Sweden","d":"2020-08-29","v":0.001},{"c":"Sweden","d":"2020-08-31","v":0.006},{"c":"Sweden","d":"2020-09-02","v":0.016},{"c":"Sweden","d":"2020-09-04","v":0.025},{"c":"Sweden","d":"2020-09-06","v":0.037},{"c":"Sweden","d":"2020-09-08","v":0.029},{"c":"Sweden","d":"2020-09-09","v":0.016},{"c":"Sweden","d":"2020-09-12","v":0.014},{"c":"Sweden","d":"2020-09-14","v":0.018},{"c":"Sweden","d":"2020-09-16","v":0.027},{"c":"Sweden","d":"2020-09-18","v":0.025},{"c":"Sweden","d":"2020-09-21","v":0.025},{"c":"Sweden","d":"2020-09-23","v":0.018},{"c":"Sweden","d":"2020-09-25","v":0.023},{"c":"Sweden","d":"2020-09-27","v":0.027},{"c":"Sweden","d":"2020-09-29","v":0.023},{"c":"Sweden","d":"2020-10-01","v":0.018},{"c":"Sweden","d":"2020-10-03","v":0.005},{"c":"Sweden","d":"2020-10-09","v":0.004},{"c":"Sweden","d":"2020-10-10","v":0.013},{"c":"Sweden","d":"2020-10-12","v":0.022},{"c":"Sweden","d":"2020-10-14","v":0.02},{"c":"Sweden","d":"2020-10-15","v":0.033},{"c":"Sweden","d":"2020-10-18","v":0.033},{"c":"Sweden","d":"2020-10-21","v":0.029},{"c":"Sweden","d":"2020-10-25","v":0.0},{"c":"Sweden","d":"2020-10-29","v":0.006},{"c":"Sweden","d":"2020-10-31","v":0.058},{"c":"Sweden","d":"2020-11-02","v":0.095},{"c":"Sweden","d":"2020-11-04","v":0.117},{"c":"Sweden","d":"2020-11-05","v":0.117},{"c":"Sweden","d":"2020-11-08","v":0.12},{"c":"Sweden","d":"2020-11-09","v":0.122},{"c":"Sweden","d":"2020-11-10","v":0.115},{"c":"Sweden","d":"2020-11-12","v":0.199},{"c":"Sweden","d":"2020-11-13","v":0.213},{"c":"Sweden","d":"2020-11-15","v":0.222},{"c":"Sweden","d":"2020-11-16","v":0.231},{"c":"Sweden","d":"2020-11-17","v":0.334},{"c":"Sweden","d":"2020-11-18","v":0.304},{"c":"Sweden","d":"2020-11-19","v":0.345},{"c":"Sweden","d":"2020-11-20","v":0.359},{"c":"Sweden","d":"2020-11-21","v":0.365},{"c":"Sweden","d":"2020-11-22","v":0.372},{"c":"Sweden","d":"2020-11-23","v":0.384},{"c":"Sweden","d":"2020-11-24","v":0.327},{"c":"Sweden","d":"2020-11-25","v":0.393},{"c":"Sweden","d":"2020-11-26","v":0.386},{"c":"Sweden","d":"2020-11-27","v":0.397},{"c":"Sweden","d":"2020-11-28","v":0.404},{"c":"Sweden","d":"2020-11-29","v":0.41},{"c":"Sweden","d":"2020-11-30","v":0.413},{"c":"Sweden","d":"2020-12-01","v":0.579},{"c":"Sweden","d":"2020-12-02","v":0.536},{"c":"Sweden","d":"2020-12-03","v":0.538},{"c":"Sweden","d":"2020-12-04","v":0.545},{"c":"Sweden","d":"2020-12-05","v":0.55},{"c":"Sweden","d":"2020-12-06","v":0.552},{"c":"Sweden","d":"2020-12-07","v":0.557}
]},
"layer": [
{"mark": {"type": "line", "strokeWidth": 4.5, "strokeJoin": "round"},
 "encoding": {
  "x": {"field": "d", "type": "temporal",
   "scale": {"type": "utc", "domain": [{"year": 2020, "month": 2, "date": 15, "utc": true}, {"year": 2020, "month": 12, "date": 7, "utc": true}]},
   "axis": {"title": null, "tickCount": {"interval": "month", "step": 1}, "labelExpr": "utcFormat(datum.value, '%b')", "labelFontSize": 30, "labelColor": "#66605C", "labelPadding": 7, "labelFlush": false, "ticks": false, "domain": true, "domainColor": "#8A837E", "domainWidth": 2, "grid": true, "gridColor": "#E9DDD2", "gridWidth": 2}},
  "y": {"field": "v", "type": "quantitative",
   "scale": {"domain": [0, 1.4114], "nice": false, "zero": false},
   "axis": {"title": null, "values": [0, 0.1, 0.2, 0.3, 0.4, 0.5, 0.6, 0.7, 0.8, 0.9, 1.0, 1.1, 1.2, 1.3, 1.4], "labelExpr": "datum.value == 0 ? '0' : format(datum.value, '.1f')", "labelFontSize": 30, "labelColor": "#66605C", "labelPadding": 9, "ticks": false, "domain": false, "grid": true, "gridColor": "#E9DDD2", "gridWidth": 2}},
  "color": {"field": "c", "type": "nominal", "legend": null,
   "scale": {"domain": ["Italy", "United Kingdom", "France", "Sweden", "Germany", "Denmark"], "range": ["#2196D3", "#0F5499", "#9BC356", "#D0313F", "#75002E", "#EB5E8D"]}}
 }},
{"mark": {"type": "rule", "stroke": "#4A4541", "strokeWidth": 2, "strokeDash": [4, 3]},
 "encoding": {
  "x": {"datum": {"year": 2020, "month": 11, "date": 5, "utc": true}, "type": "temporal"},
  "y": {"datum": 0, "type": "quantitative"},
  "y2": {"datum": 1.3289}
 }},
{"transform": [{"filter": {"field": "d", "equal": {"year": 2020, "month": 12, "date": 7, "utc": true}}}],
 "mark": {"type": "point", "filled": true, "size": 270, "opacity": 1},
 "encoding": {
  "x": {"field": "d", "type": "temporal"},
  "y": {"field": "v", "type": "quantitative"},
  "color": {"field": "c", "type": "nominal", "legend": null}
 }},
{"transform": [{"filter": {"field": "d", "equal": {"year": 2020, "month": 12, "date": 7, "utc": true}}}],
 "mark": {"type": "text", "align": "left", "baseline": "middle", "dx": 22, "fontSize": 29, "dy": {"expr": "datum.c == 'United Kingdom' ? -2 : datum.c == 'France' ? -1 : datum.c == 'Sweden' ? 4 : 0"}},
 "encoding": {
  "x": {"field": "d", "type": "temporal"},
  "y": {"field": "v", "type": "quantitative"},
  "text": {"field": "c", "type": "nominal"},
  "color": {"field": "c", "type": "nominal", "legend": null}
 }},
{"transform": [{"filter": {"and": [{"field": "c", "equal": "France"}, {"field": "d", "equal": {"year": 2020, "month": 11, "date": 5, "utc": true}}]}}],
 "mark": {"type": "point", "filled": true, "size": 270, "opacity": 1},
 "encoding": {
  "x": {"field": "d", "type": "temporal"},
  "y": {"field": "v", "type": "quantitative"},
  "color": {"field": "c", "type": "nominal", "legend": null}
 }},
{"mark": {"type": "rect", "fill": "#EADFD5", "strokeWidth": 0, "x2Offset": 2, "y2Offset": 3},
 "encoding": {
  "x": {"datum": {"year": 2020, "month": 10, "date": 13, "hours": 3, "utc": true}, "type": "temporal"},
  "x2": {"datum": {"year": 2020, "month": 11, "date": 28, "hours": 6, "utc": true}},
  "y": {"datum": 1.49, "type": "quantitative"},
  "y2": {"datum": 1.3289}
 }},
{"mark": {"type": "rect", "fill": "#FFFFFF", "strokeWidth": 0},
 "encoding": {
  "x": {"datum": {"year": 2020, "month": 10, "date": 13, "hours": 3, "utc": true}, "type": "temporal"},
  "x2": {"datum": {"year": 2020, "month": 11, "date": 28, "hours": 6, "utc": true}},
  "y": {"datum": 1.49, "type": "quantitative"},
  "y2": {"datum": 1.3289}
 }},
{"mark": {"type": "rect", "fill": "#F2F2F2", "strokeWidth": 0},
 "encoding": {
  "x": {"datum": {"year": 2020, "month": 11, "date": 3, "hours": 19, "utc": true}, "type": "temporal"},
  "x2": {"datum": {"year": 2020, "month": 11, "date": 28, "hours": 6, "utc": true}},
  "y": {"datum": 1.49, "type": "quantitative"},
  "y2": {"datum": 1.461}
 }},
{"mark": {"type": "rect", "fill": "#F0E4D8", "strokeWidth": 0},
 "encoding": {
  "x": {"datum": {"year": 2020, "month": 11, "date": 28, "hours": 6, "utc": true}, "type": "temporal"},
  "x2": {"datum": {"year": 2021, "month": 1, "date": 20, "utc": true}},
  "y": {"datum": 1.49, "type": "quantitative"},
  "y2": {"datum": 1.461}
 }},
{"mark": {"type": "text", "align": "left", "baseline": "middle", "dx": 16, "fontSize": 24, "fontWeight": 500, "color": "#33302E"},
 "encoding": {
  "x": {"datum": {"year": 2020, "month": 10, "date": 13, "hours": 3, "utc": true}, "type": "temporal"},
  "y": {"datum": 1.4546, "type": "quantitative"},
  "text": {"value": "France"}
 }},
{"mark": {"type": "text", "align": "left", "baseline": "middle", "dx": 16, "fontSize": 24, "fontWeight": 700, "color": "#33302E"},
 "encoding": {
  "x": {"datum": {"year": 2020, "month": 10, "date": 13, "hours": 3, "utc": true}, "type": "temporal"},
  "y": {"datum": 1.4076, "type": "quantitative"},
  "text": {"value": "0.64"}
 }},
{"mark": {"type": "text", "align": "left", "baseline": "middle", "dx": 71, "fontSize": 24, "fontWeight": 400, "color": "#33302E"},
 "encoding": {
  "x": {"datum": {"year": 2020, "month": 10, "date": 13, "hours": 3, "utc": true}, "type": "temporal"},
  "y": {"datum": 1.4076, "type": "quantitative"},
  "text": {"value": "avg deaths per 100k"}
 }},
{"mark": {"type": "text", "align": "left", "baseline": "middle", "dx": 16, "fontSize": 24, "fontWeight": 400, "color": "#999390"},
 "encoding": {
  "x": {"datum": {"year": 2020, "month": 10, "date": 13, "hours": 3, "utc": true}, "type": "temporal"},
  "y": {"datum": 1.3632, "type": "quantitative"},
  "text": {"value": "Nov 5"}
 }}
]
}
